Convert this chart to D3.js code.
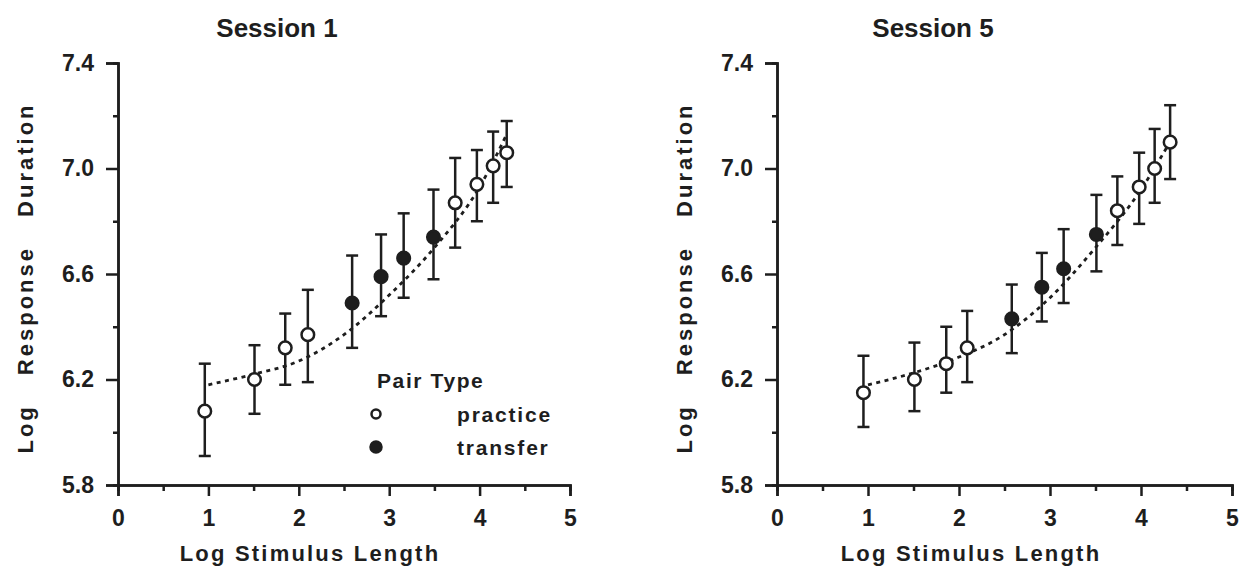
<!doctype html>
<html lang="en">
<head>
  <meta charset="utf-8">
  <title>Session 1 / Session 5</title>
  <script src="https://cdnjs.cloudflare.com/ajax/libs/d3/7.8.5/d3.min.js"></script>
  <style>
    body { margin: 0; background: #fff; }
    text { font-family: "Liberation Sans", Arial, sans-serif; fill: #1e1e1e; font-weight: bold; }
  </style>
</head>
<body>
<svg width="1240" height="570" id="svg"></svg>
<script>
// ticks
var xMajor = [0, 1, 2, 3, 4, 5];
var xMinor = [0.5, 1.5, 2.5, 3.5, 4.5];
var yMajor = [5.8, 6.2, 6.6, 7.0, 7.4];
var yMinor = [6.0, 6.4, 6.8, 7.2];

// pair type of each point (same order in both sessions)
var pairType = ['practice','practice','practice','practice','transfer','transfer','transfer','transfer','practice','practice','practice','practice'];

// Session 1
var s1X  = [0.96, 1.51, 1.85, 2.10, 2.59, 2.91, 3.16, 3.49, 3.73, 3.97, 4.15, 4.30];
var s1Y  = [6.08, 6.20, 6.32, 6.37, 6.49, 6.59, 6.66, 6.74, 6.87, 6.94, 7.01, 7.06];
var s1Hi = [6.26, 6.33, 6.45, 6.54, 6.67, 6.75, 6.83, 6.92, 7.04, 7.07, 7.14, 7.18];
var s1Lo = [5.91, 6.07, 6.18, 6.19, 6.32, 6.44, 6.51, 6.58, 6.70, 6.80, 6.87, 6.93];

// Session 5
var s5X  = [0.95, 1.51, 1.86, 2.09, 2.58, 2.91, 3.15, 3.51, 3.74, 3.98, 4.15, 4.32];
var s5Y  = [6.15, 6.20, 6.26, 6.32, 6.43, 6.55, 6.62, 6.75, 6.84, 6.93, 7.00, 7.10];
var s5Hi = [6.29, 6.34, 6.40, 6.46, 6.56, 6.68, 6.77, 6.90, 6.97, 7.06, 7.15, 7.24];
var s5Lo = [6.02, 6.08, 6.15, 6.19, 6.30, 6.42, 6.49, 6.61, 6.71, 6.79, 6.87, 6.96];

// dotted fit curves
var fitX  = [1.0, 1.5, 2.0, 2.5, 3.0, 3.5, 4.0, 4.3];
var s1Fit = [6.18, 6.22, 6.27, 6.37, 6.52, 6.70, 6.93, 7.13];
var s5Fit = [6.18, 6.225, 6.285, 6.37, 6.51, 6.70, 6.92, 7.09];

var svg = d3.select('#svg');

function panel(opt) {
	var x = d3.scaleLinear().domain([0, 5]).range([opt.x0, opt.x1]);
	var y = d3.scaleLinear().domain([5.8, 7.4]).range([485, 63]);
	var g = svg.append('g');

	// axes
	g.append('g').attr('class', 'ax').attr('transform', 'translate(0,485)')
		.call(d3.axisBottom(x).tickValues(xMajor).tickSize(11).tickPadding(14).tickFormat(d3.format('d')));
	g.append('g').attr('class', 'ax').attr('transform', 'translate(0,485)')
		.call(d3.axisBottom(x).tickValues(xMinor).tickSize(6).tickFormat(''));
	g.append('g').attr('class', 'ax').attr('transform', 'translate(' + opt.x0 + ',0)')
		.call(d3.axisLeft(y).tickValues(yMajor).tickSize(12).tickPadding(12).tickFormat(d3.format('.1f')));
	g.append('g').attr('class', 'ax').attr('transform', 'translate(' + opt.x0 + ',0)')
		.call(d3.axisLeft(y).tickValues(yMinor).tickSize(5).tickFormat(''));

	g.selectAll('.ax').attr('font-size', 23).attr('font-family', '"Liberation Sans", Arial, sans-serif');
	g.selectAll('.domain').attr('stroke', '#1e1e1e').attr('stroke-width', 2.5);
	g.selectAll('.tick line').attr('stroke', '#1e1e1e').attr('stroke-width', 2.5);
	g.selectAll('.tick text').style('font-size', '23px').attr('fill', '#1e1e1e');

	// fit line
	var line = d3.line().x(function(d) { return x(d[0]); }).y(function(d) { return y(d[1]); }).curve(d3.curveMonotoneX);
	g.append('path')
		.datum(d3.zip(fitX, opt.fit))
		.attr('d', line)
		.attr('fill', 'none')
		.attr('stroke', '#1e1e1e')
		.attr('stroke-width', 2.8)
		.attr('stroke-dasharray', '4,4.5');

	var pts = opt.xs.map(function(v, i) {
		return { x: v, y: opt.ys[i], hi: opt.hi[i], lo: opt.lo[i], type: pairType[i] };
	});

	// error bars
	var eb = g.selectAll('.eb').data(pts).enter().append('g').attr('class', 'eb')
		.attr('stroke', '#1e1e1e').attr('stroke-width', 2.5);
	eb.append('line')
		.attr('x1', function(d) { return x(d.x); }).attr('x2', function(d) { return x(d.x); })
		.attr('y1', function(d) { return y(d.hi); }).attr('y2', function(d) { return y(d.lo); });
	eb.append('line')
		.attr('x1', function(d) { return x(d.x) - 6; }).attr('x2', function(d) { return x(d.x) + 6; })
		.attr('y1', function(d) { return y(d.hi); }).attr('y2', function(d) { return y(d.hi); });
	eb.append('line')
		.attr('x1', function(d) { return x(d.x) - 6; }).attr('x2', function(d) { return x(d.x) + 6; })
		.attr('y1', function(d) { return y(d.lo); }).attr('y2', function(d) { return y(d.lo); });

	// points
	g.selectAll('circle.pt').data(pts).enter().append('circle')
		.attr('class', 'pt')
		.attr('cx', function(d) { return x(d.x); })
		.attr('cy', function(d) { return y(d.y); })
		.attr('r', 6.3)
		.attr('fill', function(d) { return d.type === 'practice' ? '#fff' : '#1e1e1e'; })
		.attr('stroke', '#1e1e1e')
		.attr('stroke-width', 2.5);

	// titles
	g.append('text').attr('x', opt.titleX).attr('y', 37)
		.attr('text-anchor', 'middle').style('font-size', '26px').style('font-weight', '600')
		.text(opt.title);
	g.append('text').attr('x', opt.xTitleX).attr('y', 561)
		.attr('text-anchor', 'middle').style('font-size', '22px').style('letter-spacing', '2.2px')
		.text('Log Stimulus Length');
	g.append('text').attr('transform', 'translate(' + opt.yTitleX + ',278) rotate(-90)')
		.attr('text-anchor', 'middle').style('font-size', '22px').style('letter-spacing', '3px')
		.style('word-spacing', '20px')
		.text('Log Response Duration');

	return { x: x, y: y, g: g };
}

var left = panel({ x0: 118, x1: 570, xs: s1X, ys: s1Y, hi: s1Hi, lo: s1Lo, fit: s1Fit,
	title: 'Session 1', titleX: 277, xTitleX: 310, yTitleX: 33 });
var right = panel({ x0: 777, x1: 1232, xs: s5X, ys: s5Y, hi: s5Hi, lo: s5Lo, fit: s5Fit,
	title: 'Session 5', titleX: 933, xTitleX: 971, yTitleX: 692 });

// legend (session 1 panel)
var lg = svg.append('g');
lg.append('text').attr('x', 377).attr('y', 388).style('font-size', '21px')
	.style('letter-spacing', '1.6px').text('Pair Type');
var legendItems = ['practice', 'transfer'];
legendItems.forEach(function(t, i) {
	var cy = 414 + i * 33;
	lg.append('circle').attr('cx', 376).attr('cy', cy).attr('r', t === 'practice' ? 4.5 : 5.5)
		.attr('fill', t === 'practice' ? '#fff' : '#1e1e1e')
		.attr('stroke', '#1e1e1e').attr('stroke-width', 2.5);
	lg.append('text').attr('x', 457).attr('y', cy + 8).style('font-size', '21px')
		.style('letter-spacing', '1.8px').text(t);
});
</script>
</body>
</html>
